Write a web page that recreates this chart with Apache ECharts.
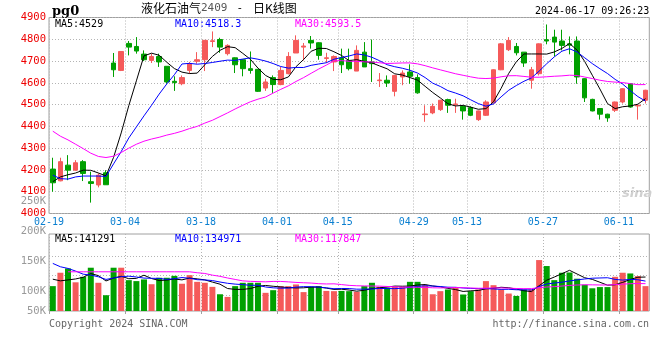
<!DOCTYPE html>
<html><head><meta charset="utf-8">
<script src="https://cdn.jsdelivr.net/npm/echarts@6/dist/echarts.min.js"></script>
<style>html,body{margin:0;padding:0;background:#fff}#c{width:660px;height:360px}</style>
</head><body><div id="c"></div>
<script>
const dates = ['02-19','02-20','02-21','02-22','02-23','02-26','02-27','02-28','02-29','03-01',
'03-04','03-05','03-06','03-07','03-08','03-11','03-12','03-13','03-14','03-15',
'03-18','03-19','03-20','03-21','03-22','03-25','03-26','03-27','03-28','03-29',
'04-01','04-02','04-03','04-08','04-09','04-10','04-11','04-12',
'04-15','04-16','04-17','04-18','04-19','04-22','04-23','04-24','04-25','04-26',
'04-29','04-30','05-06','05-07','05-08','05-09','05-10',
'05-13','05-14','05-15','05-16','05-17','05-20','05-21','05-22','05-23','05-24',
'05-27','05-28','05-29','05-30','05-31','06-03','06-04','06-05','06-06','06-07',
'06-11','06-12','06-13','06-14'];
const labelDates = ['02-19','03-04','03-18','04-01','04-15','04-29','05-13','05-27','06-11'];
const opens = [4204,4150,4222,4199,4238,4146,4131,4187,4691,4657,4781,4767,4732,4703,4721,4676,4607,4596,4657,4699,4706,4790,4799,4734,4715,4706,4665,4662,4576,4624,4592,4642,4737,4764,4795,4784,4712,4696,4715,4703,4654,4741,4696,4610,4612,4561,4627,4650,4624,4454,4462,4477,4523,4500,4492,4486,4431,4451,4508,4660,4752,4767,4741,4612,4642,4798,4810,4792,4779,4792,4619,4524,4482,4456,4474,4512,4596,4494,4520];
const closes = [4141,4238,4199,4233,4184,4138,4176,4132,4660,4744,4764,4746,4706,4721,4696,4604,4601,4624,4688,4706,4795,4793,4764,4772,4683,4665,4657,4561,4604,4592,4657,4721,4795,4769,4783,4726,4715,4721,4683,4665,4749,4673,4688,4613,4599,4634,4645,4630,4554,4457,4492,4520,4497,4503,4471,4451,4471,4512,4660,4779,4795,4738,4691,4660,4779,4792,4787,4772,4773,4627,4531,4471,4456,4439,4512,4573,4489,4497,4566];
const lows = [4100,4148,4153,4196,4149,4050,4120,4132,4627,4654,4726,4734,4700,4691,4673,4596,4563,4589,4642,4688,4654,4764,4738,4726,4645,4630,4642,4558,4563,4554,4589,4639,4737,4703,4757,4706,4691,4654,4645,4657,4654,4673,4604,4581,4581,4538,4589,4596,4550,4421,4456,4471,4462,4462,4431,4447,4425,4448,4506,4658,4746,4726,4673,4573,4634,4777,4721,4749,4731,4596,4512,4469,4431,4421,4466,4505,4486,4431,4505];
const highs = [4256,4256,4268,4245,4245,4192,4184,4199,4737,4746,4792,4810,4749,4734,4734,4676,4630,4634,4696,4741,4795,4836,4807,4777,4717,4708,4744,4664,4619,4634,4673,4741,4818,4783,4815,4786,4738,4726,4757,4757,4772,4787,4799,4645,4634,4636,4657,4685,4639,4497,4505,4522,4527,4527,4497,4492,4473,4520,4662,4783,4810,4783,4741,4673,4781,4868,4844,4844,4813,4813,4621,4527,4484,4458,4514,4575,4598,4499,4568];
const volumes = [104000,160000,178000,120000,143000,181000,118000,66000,181000,181000,129000,125000,132000,112000,139000,139000,147000,114000,150000,122000,118000,101000,70000,59000,104000,118000,118000,118000,76000,87000,104000,104000,111000,79000,101000,104000,84000,83000,84000,83000,80000,104000,118000,101000,97000,101000,101000,122000,122000,108000,70000,83000,90000,97000,69000,83000,90000,125000,108000,90000,73000,63000,90000,90000,213000,188000,129000,160000,161000,135000,110000,95000,100000,100000,143000,160000,157000,146000,104000];
const ma5Head = [4146,4168,4178,4186];
const ma10Head = [4176,4160,4158,4168,4172,4172,4172,4170,4228];
const ma30Head = [4378,4355,4338,4318,4298,4277,4262,4257,4263,4280,4300,4318,4332,4342,4350,4360,4368,4378,4390,4400,4415,4428,4445,4462,4480,4497,4513,4525,4535];
const vma5Head = [133000,126000,130000,134000];
const vma10Head = [199000,185000,178000,167000,154000,150000,143000,132000,138000];
const vma30Head = [null,null,164000,164000,164000,164000,164000,164000,164000,164000,164000,164000,164000,164000,164000,164000,164000,164000,164000,160000,157000,150000,145000,138000,132000,126000,124000,123000,122000];
const priceTicks = ['4000','4100','4200','4300','4400','4500','4600','4700','4800','4900'];
const volTickLabels = ['50K','100K','150K','200K','250K'];
const legendMain = ['MA5:4529','MA10:4518.3','MA30:4593.5'];
const legendVol = ['MA5:141291','MA10:134971','MA30:117847'];

function ma(arr, n, head){
  return arr.map((_, i) => {
    if (i < n - 1) return head[i];
    let s = 0; for (let k = i - n + 1; k <= i; k++) s += arr[k];
    return +(s / n).toFixed(1);
  });
}
const UP = '#f55a5a', DOWN = '#00a000';
const N = dates.length;
const labelIdx = labelDates.map(d => dates.indexOf(d));
const candle = dates.map((_, i) => [opens[i], closes[i], lows[i], highs[i]]);
const volData = volumes.map((v, i) => ({value: v, itemStyle: {color: closes[i] >= opens[i] ? UP : DOWN}}));
const mono = 'DejaVu Sans Mono';
const dot = {show: true, lineStyle: {color: '#b4b4b4', type: [1, 2], width: 1}};
const GL = 49, GW = 600.3;
const VMAX = 322000;
const volGridAt = [67000, 149000, 231000];
const volLabelAt = [66.3, 100, 150, 200, 250];

const chart = echarts.init(document.getElementById('c'), null, {renderer: 'canvas'});
chart.setOption({
  animation: false,
  backgroundColor: '#fff',
  grid: [
    {left: GL, width: GW, top: 17.5, height: 196, show: true, borderColor: '#a0a0a0', borderWidth: 1},
    {left: GL, width: GW, top: 234, height: 77, show: true, borderColor: '#a0a0a0', borderWidth: 1},
    {left: GL, width: GW, top: 201.7, height: 109.3, show: false}
  ],
  xAxis: [
    {type: 'category', gridIndex: 0, data: dates, boundaryGap: true, show: false},
    {type: 'value', gridIndex: 0, min: 0, max: N, position: 'bottom',
     axisLine: {show: false}, axisTick: {show: false, customValues: labelIdx},
     axisLabel: {customValues: labelIdx, formatter: v => dates[v], color: '#0a7fd0', fontFamily: mono, fontSize: 10, margin: 4},
     splitLine: dot},
    {type: 'category', gridIndex: 1, data: dates, boundaryGap: true, show: false},
    {type: 'value', gridIndex: 1, min: 0, max: N, position: 'bottom',
     axisLine: {show: false}, axisTick: {show: true, length: 3, customValues: labelIdx, lineStyle: {color: '#a0a0a0'}},
     axisLabel: {show: false}, splitLine: dot},
    {type: 'value', gridIndex: 2, min: 0, max: 1, show: false}
  ],
  yAxis: [
    {type: 'value', gridIndex: 0, min: +priceTicks[0], max: +priceTicks[priceTicks.length - 1], interval: 100,
     axisLine: {show: false}, axisTick: {show: false},
     axisLabel: {color: '#ee0000', fontFamily: mono, fontSize: 10.5, margin: 3, formatter: v => priceTicks[priceTicks.indexOf(String(v))]},
     splitLine: dot},
    {type: 'value', gridIndex: 1, min: 0, max: VMAX,
     axisLine: {show: false}, axisTick: {show: false, customValues: volGridAt},
     axisLabel: {show: false}, splitLine: dot},
    {type: 'value', gridIndex: 2, min: 66.3, max: 250,
     axisLine: {show: false}, axisTick: {show: false},
     axisLabel: {customValues: volLabelAt, color: '#999', fontFamily: mono, fontSize: 10.5, margin: 3,
       formatter: v => volTickLabels[volLabelAt.indexOf(v)]},
     splitLine: {show: false}}
  ],
  series: [
    {type: 'candlestick', xAxisIndex: 0, yAxisIndex: 0, data: candle, barWidth: 5,
     itemStyle: {color: UP, color0: DOWN, borderColor: UP, borderColor0: DOWN, borderWidth: 1}},
    {type: 'line', xAxisIndex: 0, yAxisIndex: 0, data: ma(closes, 5, ma5Head), showSymbol: false, lineStyle: {color: '#000', width: 1}},
    {type: 'line', xAxisIndex: 0, yAxisIndex: 0, data: ma(closes, 10, ma10Head), showSymbol: false, lineStyle: {color: '#0000ff', width: 1}},
    {type: 'line', xAxisIndex: 0, yAxisIndex: 0, data: ma(closes, 30, ma30Head), showSymbol: false, lineStyle: {color: '#ff00ff', width: 1}},
    {type: 'bar', xAxisIndex: 2, yAxisIndex: 1, data: volData, barWidth: 6},
    {type: 'line', xAxisIndex: 2, yAxisIndex: 1, data: ma(volumes, 5, vma5Head), showSymbol: false, lineStyle: {color: '#000', width: 1}},
    {type: 'line', xAxisIndex: 2, yAxisIndex: 1, data: ma(volumes, 10, vma10Head), showSymbol: false, lineStyle: {color: '#0000ff', width: 1}},
    {type: 'line', xAxisIndex: 2, yAxisIndex: 1, data: ma(volumes, 30, vma30Head), showSymbol: false, lineStyle: {color: '#ff00ff', width: 1}}
  ],
  graphic: [
    {type: 'text', left: 52, top: 5, style: {text: 'pg0', font: 'bold 13px "DejaVu Serif"', fill: '#000'}},
    {type: 'text', left: 141, top: 2, style: {text: '{a|液化石油气}{b|2409}{c|-}{a|日K线图}',
      rich: {a: {fontFamily: 'Noto Sans CJK SC', fontSize: 12, fill: '#000'},
             b: {fontFamily: mono, fontSize: 11, fill: '#555'},
             c: {fontFamily: mono, fontSize: 11, fill: '#000', padding: [0, 10, 0, 9]}}}},
    {type: 'text', left: 535, top: 6, style: {text: '2024-06-17 09:26:23', font: '10px "DejaVu Sans Mono"', fill: '#000'}},
    {type: 'text', left: 55, top: 19, style: {text: legendMain[0], font: '10px "DejaVu Sans Mono"', fill: '#000'}},
    {type: 'text', left: 175, top: 19, style: {text: legendMain[1], font: '10px "DejaVu Sans Mono"', fill: '#0000ff'}},
    {type: 'text', left: 295, top: 19, style: {text: legendMain[2], font: '10px "DejaVu Sans Mono"', fill: '#ff00ff'}},
    {type: 'text', left: 55, top: 234, style: {text: legendVol[0], font: '10px "DejaVu Sans Mono"', fill: '#000'}},
    {type: 'text', left: 175, top: 234, style: {text: legendVol[1], font: '10px "DejaVu Sans Mono"', fill: '#0000ff'}},
    {type: 'text', left: 295, top: 234, style: {text: legendVol[2], font: '10px "DejaVu Sans Mono"', fill: '#ff00ff'}},
    {type: 'text', left: 622, top: 187, style: {text: 'sina', font: 'italic bold 13px "DejaVu Sans"', fill: '#d0d0d0'}},
    {type: 'text', left: 49, top: 319, style: {text: 'Copyright 2024 SINA.COM', font: '10px "DejaVu Sans Mono"', fill: '#666'}},
    {type: 'text', right: 11, top: 319, style: {text: 'http://finance.sina.com.cn', font: '10px "DejaVu Sans Mono"', fill: '#666'}}
  ]
});
</script></body></html>
